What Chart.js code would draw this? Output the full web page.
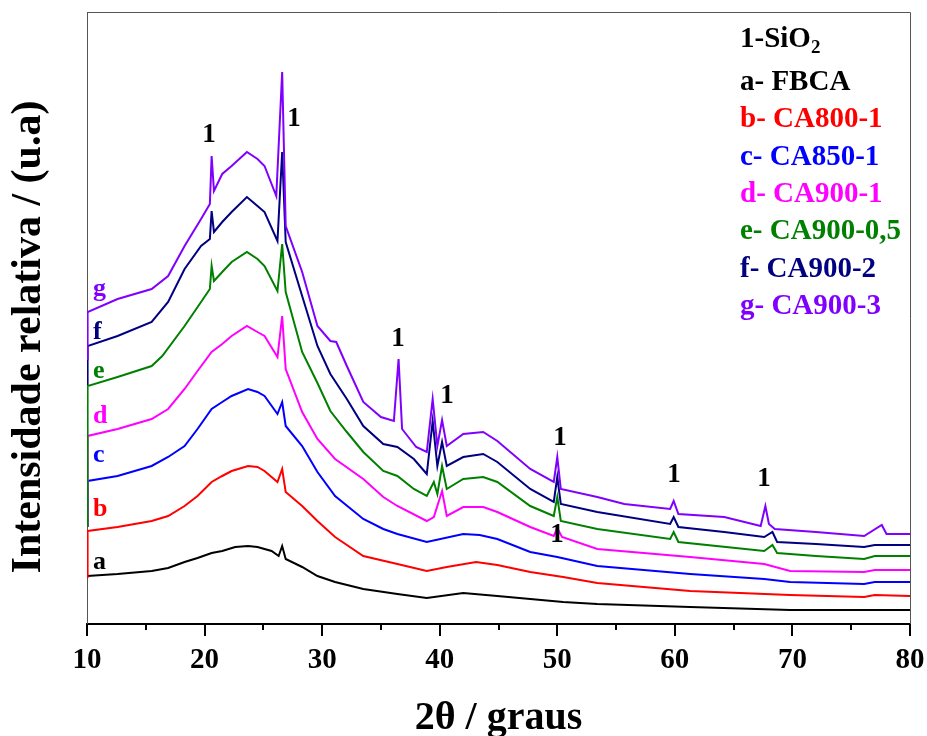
<!DOCTYPE html>
<html lang="pt">
<head>
<meta charset="UTF-8" />
<title>DRX - Intensidade relativa</title>
<script src="https://cdn.jsdelivr.net/npm/chart.js"></script>
<style>
  body { margin: 0; background: #fff; }
  #wrap { width: 927px; height: 736px; }
</style>
</head>
<body>
<div id="wrap"><canvas id="xrd" width="927" height="736"></canvas></div>
<script>
// values (2θ in degrees, intensity in arbitrary units)
const aX = [10, 12.6, 15.5, 16.9, 18.3, 19.4, 20.6, 21.5, 22.6, 23.7, 24.5, 25.7, 26.3, 26.6, 26.9, 28.3, 29.6, 31.1, 33.5, 36.4, 38.9, 42.0, 44.9, 47.7, 50.5, 53.4, 61.3, 69.8, 80];
const aY = [48, 50, 53, 56, 62, 66, 71, 73, 77, 78, 77, 73, 68, 78, 65, 57, 48, 42, 35, 30, 26, 31, 28, 25, 22, 20, 17, 14, 14];

const bX = [10, 10.05, 12.6, 15.5, 16.9, 18.3, 19.4, 20.6, 21.5, 22.3, 23.7, 24.5, 25.1, 26.2, 26.6, 26.9, 28.3, 29.6, 31.1, 33.5, 36.4, 38.9, 40.6, 43.1, 44.9, 47.7, 50.5, 53.4, 61.3, 69.8, 76.1, 77.0, 80];
const bY = [47, 93, 97, 103, 108, 118, 128, 142, 148, 153, 158, 157, 153, 142, 155, 132, 118, 103, 87, 68, 60, 53, 57, 62, 59, 52, 47, 41, 33, 29, 27, 29, 28];

const cX = [10, 10.05, 12.6, 15.5, 16.9, 18.3, 19.4, 20.6, 21.5, 22.3, 23.7, 24.5, 25.1, 26.2, 26.6, 26.9, 28.3, 29.6, 31.1, 33.5, 35.2, 36.4, 38.9, 42.0, 43.4, 44.9, 47.7, 50.0, 53.4, 61.3, 67.6, 69.8, 76.1, 77.0, 80];
const cY = [98, 143, 148, 158, 167, 178, 195, 215, 222, 228, 235, 232, 228, 210, 222, 198, 178, 152, 128, 105, 95, 90, 82, 90, 89, 85, 72, 67, 58, 50, 45, 42, 40, 42, 42];

const dX = [10, 10.05, 12.6, 15.5, 16.9, 18.3, 19.4, 20.6, 21.5, 22.3, 23.6, 24.5, 25.1, 26.2, 26.6, 26.9, 28.3, 29.6, 31.1, 33.5, 35.2, 36.4, 38.9, 39.5, 40.2, 40.6, 42.0, 43.7, 44.9, 47.7, 49.7, 50.0, 50.4, 53.4, 61.3, 67.6, 69.8, 76.1, 77.0, 80];
const dY = [98, 188, 195, 205, 215, 235, 253, 272, 280, 288, 298, 292, 288, 267, 308, 255, 212, 185, 165, 145, 127, 118, 103, 107, 133, 108, 117, 117, 112, 97, 88, 96, 87, 75, 67, 60, 53, 52, 54, 54];

const eX = [10, 10.05, 12.6, 15.5, 16.4, 18.3, 19.7, 20.45, 20.6, 20.8, 21.5, 22.3, 23.6, 24.5, 25.1, 26.2, 26.6, 26.9, 28.3, 29.6, 30.7, 32.1, 33.5, 35.2, 36.4, 37.8, 38.9, 39.5, 39.8, 40.2, 40.6, 42.0, 43.7, 44.9, 47.7, 49.7, 50.0, 50.3, 53.4, 59.6, 59.9, 60.3, 67.6, 68.3, 68.7, 72, 76.1, 77.0, 80];
const eY = [98, 238, 247, 258, 268, 298, 322, 335, 358, 343, 352, 362, 372, 365, 358, 333, 380, 332, 272, 241, 213, 192, 172, 153, 148, 135, 128, 142, 130, 158, 135, 145, 147, 142, 118, 108, 127, 103, 95, 85, 92, 82, 73, 79, 71, 68, 65, 68, 68];

const fX = [10, 10.05, 12.6, 15.5, 16.9, 18.3, 19.7, 20.45, 20.6, 20.8, 21.5, 22.3, 23.6, 24.5, 25.1, 26.2, 26.6, 26.9, 28.3, 29.6, 30.7, 32.1, 33.5, 35.2, 36.4, 37.8, 38.9, 39.4, 39.8, 40.2, 40.6, 42.0, 43.7, 44.9, 47.7, 49.7, 50.0, 50.3, 53.4, 59.6, 59.9, 60.3, 64.2, 67.6, 68.3, 68.7, 72, 76.1, 77.0, 80];
const fY = [240, 278, 288, 302, 322, 355, 378, 385, 413, 392, 402, 412, 427, 418, 412, 383, 472, 382, 328, 278, 250, 225, 198, 180, 177, 165, 150, 203, 158, 182, 158, 167, 170, 162, 135, 122, 147, 120, 112, 100, 107, 97, 92, 87, 92, 82, 80, 77, 79, 79];

const gX = [10, 10.05, 12.6, 15.5, 16.9, 18.3, 19.7, 20.45, 20.6, 20.8, 21.5, 22.3, 23.6, 24.5, 25.1, 26.1, 26.6, 26.9, 28.3, 29.6, 30.7, 31.2, 32.1, 33.5, 35.0, 36.1, 36.5, 36.8, 38.0, 38.9, 39.4, 39.8, 40.2, 40.6, 42.0, 43.7, 44.9, 47.7, 49.7, 50.0, 50.3, 53.4, 55.7, 59.6, 59.9, 60.3, 64.2, 67.3, 67.7, 68.0, 68.5, 72, 76.1, 77.6, 78.0, 80];
const gY = [265, 312, 325, 335, 348, 378, 405, 420, 468, 433, 450, 458, 472, 465, 458, 428, 552, 398, 352, 298, 283, 282, 258, 222, 207, 203, 265, 195, 177, 172, 225, 178, 204, 178, 190, 192, 183, 155, 142, 167, 135, 127, 120, 115, 123, 110, 107, 98, 118, 100, 95, 92, 88, 99, 90, 90];

const seriesNames = ['a', 'b', 'c', 'd', 'e', 'f', 'g'];
const seriesColors = ['#000000', '#ff0000', '#0000ff', '#ff00ff', '#008000', '#000080', '#8000ff'];
const legendText = ['a- FBCA', 'b- CA800-1', 'c- CA850-1', 'd- CA900-1', 'e- CA900-0,5', 'f- CA900-2', 'g- CA900-3'];
const tagY = [55, 108, 162, 201, 246, 285, 328];

// SiO2 peak markers
const peakX = [20.38, 27.61, 36.45, 40.62, 50.23, 49.98, 59.93, 67.58];
const peakY = [482, 498, 278, 221, 179, 82, 142, 138];

const xTicks = [10, 20, 30, 40, 50, 60, 70, 80];

const allX = [aX, bX, cX, dX, eX, fX, gX];
const allY = [aY, bY, cY, dY, eY, fY, gY];

const serif = "'Liberation Serif', 'Times New Roman', serif";

const datasets = allX.map((xs, i) => ({
  label: seriesNames[i],
  data: xs.map((x, j) => ({ x: x, y: allY[i][j] })),
  borderColor: seriesColors[i],
  borderWidth: 2,
  pointRadius: 0,
  tension: 0,
  fill: false,
  order: 7 - i
}));

const decor = {
  id: 'decor',
  afterDraw(chart) {
    const ctx = chart.ctx;
    const area = chart.chartArea;
    const xs = chart.scales.x, ys = chart.scales.y;
    ctx.save();

    // frame top / right
    ctx.strokeStyle = '#555';
    ctx.lineWidth = 1;
    ctx.beginPath();
    ctx.moveTo(area.left, area.top + 0.5);
    ctx.lineTo(area.right + 0.5, area.top + 0.5);
    ctx.lineTo(area.right + 0.5, area.bottom);
    ctx.stroke();

    // x ticks, major every 10, minor every 5
    ctx.strokeStyle = '#000';
    ctx.lineWidth = 2;
    for (let v = 10; v <= 80; v += 5) {
      const px = Math.round(xs.getPixelForValue(v));
      const len = v % 10 === 0 ? 12 : 6;
      ctx.beginPath();
      ctx.moveTo(px, area.bottom);
      ctx.lineTo(px, area.bottom + len);
      ctx.stroke();
    }

    // y title
    ctx.fillStyle = '#000';
    ctx.font = "bold 42px " + serif;
    ctx.textAlign = 'center';
    ctx.textBaseline = 'middle';
    ctx.translate(29, 337);
    ctx.rotate(-Math.PI / 2);
    ctx.fillText('Intensidade relativa / (u.a)', 0, 0);
    ctx.setTransform(1, 0, 0, 1, 0, 0);

    // peak markers
    ctx.font = "bold 27px " + serif;
    ctx.textBaseline = 'alphabetic';
    peakX.forEach((x, i) => {
      ctx.fillText('1', xs.getPixelForValue(x), ys.getPixelForValue(peakY[i]));
    });

    // series letters at left
    ctx.font = "bold 26px " + serif;
    ctx.textAlign = 'left';
    seriesNames.forEach((s, i) => {
      ctx.fillStyle = seriesColors[i];
      ctx.fillText(s, xs.getPixelForValue(10.5), ys.getPixelForValue(tagY[i]));
    });

    // legend block
    const lx = 740;
    ctx.font = "bold 29px " + serif;
    ctx.fillStyle = '#000';
    ctx.fillText('1-SiO', lx, 47);
    const w = ctx.measureText('1-SiO').width;
    ctx.font = "bold 19px " + serif;
    ctx.fillText('2', lx + w, 53);
    ctx.font = "bold 29px " + serif;
    const lineY = [90, 127, 165, 202, 239, 277, 314];
    legendText.forEach((t, i) => {
      ctx.fillStyle = seriesColors[i];
      ctx.fillText(t, lx, lineY[i]);
    });

    ctx.restore();
  }
};

new Chart(document.getElementById('xrd'), {
  type: 'line',
  data: { datasets: datasets },
  options: {
    responsive: false,
    animation: false,
    devicePixelRatio: 1,
    layout: { padding: { top: 12, right: 17, left: 0, bottom: 0 } },
    plugins: { legend: { display: false }, tooltip: { enabled: false } },
    scales: {
      x: {
        type: 'linear',
        min: 10,
        max: 80,
        afterBuildTicks: (scale) => { scale.ticks = xTicks.map(v => ({ value: v })); },
        afterFit: (scale) => {
          scale.height = 112;
          scale.paddingLeft = 0;
          scale.paddingRight = 0;
        },
        grid: { display: false },
        border: { display: true, color: '#000', width: 2 },
        ticks: {
          color: '#000',
          padding: 11,
          font: { family: serif, size: 29, weight: 'bold' }
        },
        title: {
          display: true,
          text: '2θ / graus',
          color: '#000',
          padding: { top: 0, bottom: 0 },
          font: { family: serif, size: 40, weight: 'bold', lineHeight: 0.85 }
        }
      },
      y: {
        min: 0,
        max: 612,
        afterFit: (scale) => { scale.width = 87; },
        grid: { display: false },
        border: { display: true, color: '#555', width: 1 },
        ticks: { display: false }
      }
    }
  },
  plugins: [decor]
});
</script>
</body>
</html>
